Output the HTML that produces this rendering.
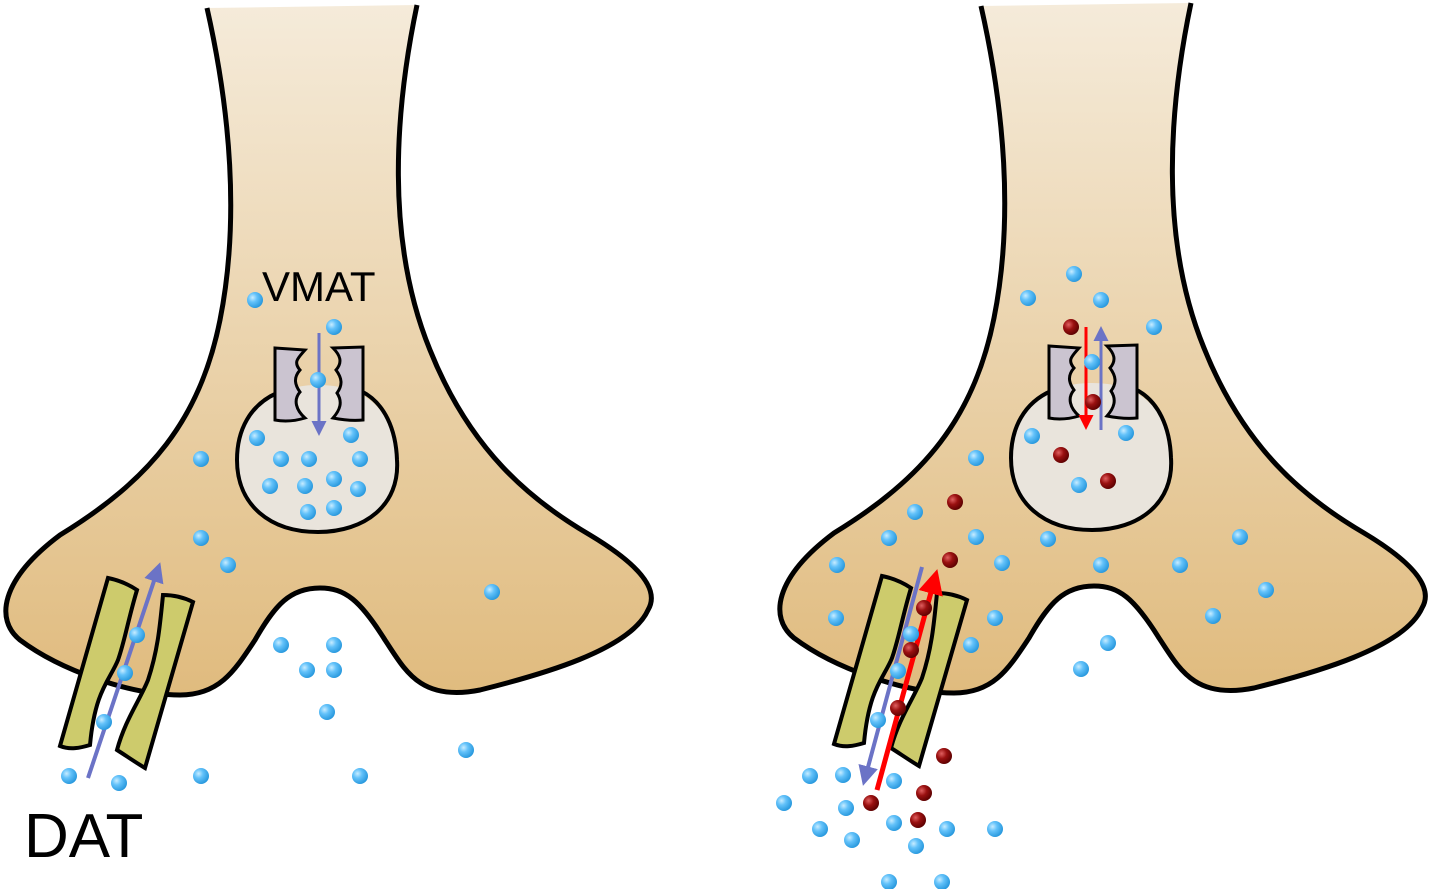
<!DOCTYPE html>
<html><head><meta charset="utf-8"><style>html,body{margin:0;padding:0;background:#fff}svg{display:block}</style></head><body>
<svg width="1429" height="889" viewBox="0 0 1429 889" xmlns="http://www.w3.org/2000/svg">
<defs>
<linearGradient id="g" x1="0" y1="0" x2="0" y2="1"><stop offset="0" stop-color="#f5ebda"/><stop offset="1" stop-color="#e0bb7e"/></linearGradient>
<radialGradient id="b" cx="0.35" cy="0.35" r="0.7"><stop offset="0" stop-color="#c8ecff"/><stop offset="0.4" stop-color="#63c2fa"/><stop offset="1" stop-color="#2596dc"/></radialGradient>
<radialGradient id="r" cx="0.35" cy="0.35" r="0.7"><stop offset="0" stop-color="#e06060"/><stop offset="0.45" stop-color="#9a1010"/><stop offset="1" stop-color="#5a0000"/></radialGradient>
<marker id="ab" markerWidth="5" markerHeight="5" refX="4" refY="2.5" orient="auto" markerUnits="strokeWidth"><path d="M0,0 L5,2.5 L0,5 z" fill="#6b73c6"/></marker>
<marker id="ar" markerWidth="5" markerHeight="5" refX="4" refY="2.5" orient="auto" markerUnits="strokeWidth"><path d="M0,0 L5,2.5 L0,5 z" fill="#f00"/></marker>
<g id="neuron">
<path d="M207,8 L417,5 C395,110 385,240 430,350 C470,450 530,500 590,535 C640,565 660,590 648,610 C630,650 540,675 480,690 C420,702 405,670 385,640 C360,600 345,588 320,588 C290,588 275,605 255,640 C235,670 220,695 180,695 C130,695 60,670 20,640 C-5,620 0,580 60,535 C150,480 200,420 220,320 C240,220 230,110 207,8 Z" fill="url(#g)"/>
<path d="M417,5 C395,110 385,240 430,350 C470,450 530,500 590,535 C640,565 660,590 648,610 C630,650 540,675 480,690 C420,702 405,670 385,640 C360,600 345,588 320,588 C290,588 275,605 255,640 C235,670 220,695 180,695 C130,695 60,670 20,640 C-5,620 0,580 60,535 C150,480 200,420 220,320 C240,220 230,110 207,8" fill="none" stroke="#000" stroke-width="5"/>
<path d="M318,385 C370,385 395,415 397,460 C400,505 365,532 318,532 C270,532 237,505 237,460 C237,415 268,385 318,385 Z" fill="#e9e4dc"/>
<path d="M277,393 C250,405 237,430 237,460 C237,505 270,532 318,532 C365,532 400,505 397,460 C396,430 385,403 361,391" fill="none" stroke="#000" stroke-width="4"/>
<path d="M275,348 L305,350 C298,358 293,362 300,370 C293,378 295,385 300,392 C293,400 296,410 305,418 C295,421 285,422 275,420 Z" fill="#cbc4d0" stroke="#000" stroke-width="3"/>
<path d="M333,348 L363,347 L363,420 C353,421 343,420 333,418 C340,410 343,402 337,393 C343,385 342,378 336,370 C343,362 340,355 333,348 Z" fill="#cbc4d0" stroke="#000" stroke-width="3"/>
<path d="M108,578 C118,580 128,584 137,590 C128,620 125,640 118,660 C110,680 95,690 90,745 C80,748 70,750 60,746 Z" fill="#cdcb6c" stroke="#000" stroke-width="4"/>
<path d="M163,595 C173,595 183,597 193,602 L145,768 C135,762 125,755 117,750 C125,720 140,700 148,680 C158,650 160,625 163,595 Z" fill="#cdcb6c" stroke="#000" stroke-width="4"/>
</g>
</defs>
<use href="#neuron"/>
<use href="#neuron" transform="translate(774,-2)"/>
<line x1="88" y1="778" x2="159" y2="566" stroke="#6b73c6" stroke-width="4" marker-end="url(#ab)"/>
<line x1="319" y1="333" x2="319" y2="433" stroke="#6b73c6" stroke-width="3" marker-end="url(#ab)"/>
<line x1="922" y1="567" x2="864" y2="782" stroke="#6b73c6" stroke-width="4" marker-end="url(#ab)"/>
<line x1="877" y1="790" x2="936" y2="574" stroke="#f00" stroke-width="5" marker-end="url(#ar)"/>
<line x1="1086" y1="327" x2="1086" y2="427" stroke="#f00" stroke-width="3" marker-end="url(#ar)"/>
<line x1="1101" y1="430" x2="1101" y2="329" stroke="#6b73c6" stroke-width="3" marker-end="url(#ab)"/>
<g fill="url(#b)">
<circle cx="255" cy="300" r="8"/><circle cx="334" cy="327" r="8"/><circle cx="318" cy="380" r="8"/><circle cx="257" cy="438" r="8"/><circle cx="351" cy="435" r="8"/><circle cx="201" cy="459" r="8"/><circle cx="281" cy="459" r="8"/><circle cx="309" cy="459" r="8"/><circle cx="360" cy="459" r="8"/><circle cx="270" cy="486" r="8"/><circle cx="305" cy="486" r="8"/><circle cx="334" cy="479" r="8"/><circle cx="358" cy="489" r="8"/><circle cx="308" cy="512" r="8"/><circle cx="334" cy="508" r="8"/><circle cx="201" cy="538" r="8"/><circle cx="228" cy="565" r="8"/><circle cx="492" cy="592" r="8"/><circle cx="137" cy="635" r="8"/><circle cx="125" cy="673" r="8"/><circle cx="104" cy="722" r="8"/><circle cx="281" cy="645" r="8"/><circle cx="334" cy="645" r="8"/><circle cx="307" cy="670" r="8"/><circle cx="334" cy="670" r="8"/><circle cx="327" cy="712" r="8"/><circle cx="466" cy="750" r="8"/><circle cx="69" cy="776" r="8"/><circle cx="119" cy="783" r="8"/><circle cx="201" cy="776" r="8"/><circle cx="360" cy="776" r="8"/>
<circle cx="1074" cy="274" r="8"/><circle cx="1028" cy="298" r="8"/><circle cx="1101" cy="300" r="8"/><circle cx="1154" cy="327" r="8"/><circle cx="1092" cy="362" r="8"/><circle cx="1032" cy="436" r="8"/><circle cx="1126" cy="433" r="8"/><circle cx="976" cy="458" r="8"/><circle cx="1079" cy="485" r="8"/><circle cx="915" cy="512" r="8"/><circle cx="889" cy="538" r="8"/><circle cx="976" cy="537" r="8"/><circle cx="1048" cy="539" r="8"/><circle cx="837" cy="565" r="8"/><circle cx="1002" cy="563" r="8"/><circle cx="1101" cy="565" r="8"/><circle cx="1180" cy="565" r="8"/><circle cx="1240" cy="537" r="8"/><circle cx="836" cy="618" r="8"/><circle cx="995" cy="618" r="8"/><circle cx="1213" cy="616" r="8"/><circle cx="1266" cy="590" r="8"/><circle cx="971" cy="645" r="8"/><circle cx="1108" cy="643" r="8"/><circle cx="1081" cy="669" r="8"/><circle cx="911" cy="634" r="8"/><circle cx="898" cy="671" r="8"/><circle cx="878" cy="720" r="8"/><circle cx="810" cy="776" r="8"/><circle cx="843" cy="775" r="8"/><circle cx="894" cy="781" r="8"/><circle cx="784" cy="803" r="8"/><circle cx="846" cy="808" r="8"/><circle cx="820" cy="829" r="8"/><circle cx="852" cy="840" r="8"/><circle cx="894" cy="823" r="8"/><circle cx="947" cy="829" r="8"/><circle cx="995" cy="829" r="8"/><circle cx="916" cy="846" r="8"/><circle cx="889" cy="882" r="8"/><circle cx="942" cy="882" r="8"/>
</g>
<g fill="url(#r)">
<circle cx="1071" cy="327" r="8"/><circle cx="1093" cy="402" r="8"/><circle cx="1061" cy="455" r="8"/><circle cx="1108" cy="481" r="8"/><circle cx="955" cy="502" r="8"/><circle cx="950" cy="560" r="8"/><circle cx="924" cy="608" r="8"/><circle cx="911" cy="650" r="8"/><circle cx="898" cy="708" r="8"/><circle cx="944" cy="756" r="8"/><circle cx="924" cy="793" r="8"/><circle cx="871" cy="803" r="8"/><circle cx="918" cy="820" r="8"/>
</g>
<text x="262" y="301" font-family="Liberation Sans, sans-serif" font-size="42" fill="#000">VMAT</text>
<text x="24" y="857" font-family="Liberation Sans, sans-serif" font-size="62" fill="#000">DAT</text>
</svg>
</body></html>
